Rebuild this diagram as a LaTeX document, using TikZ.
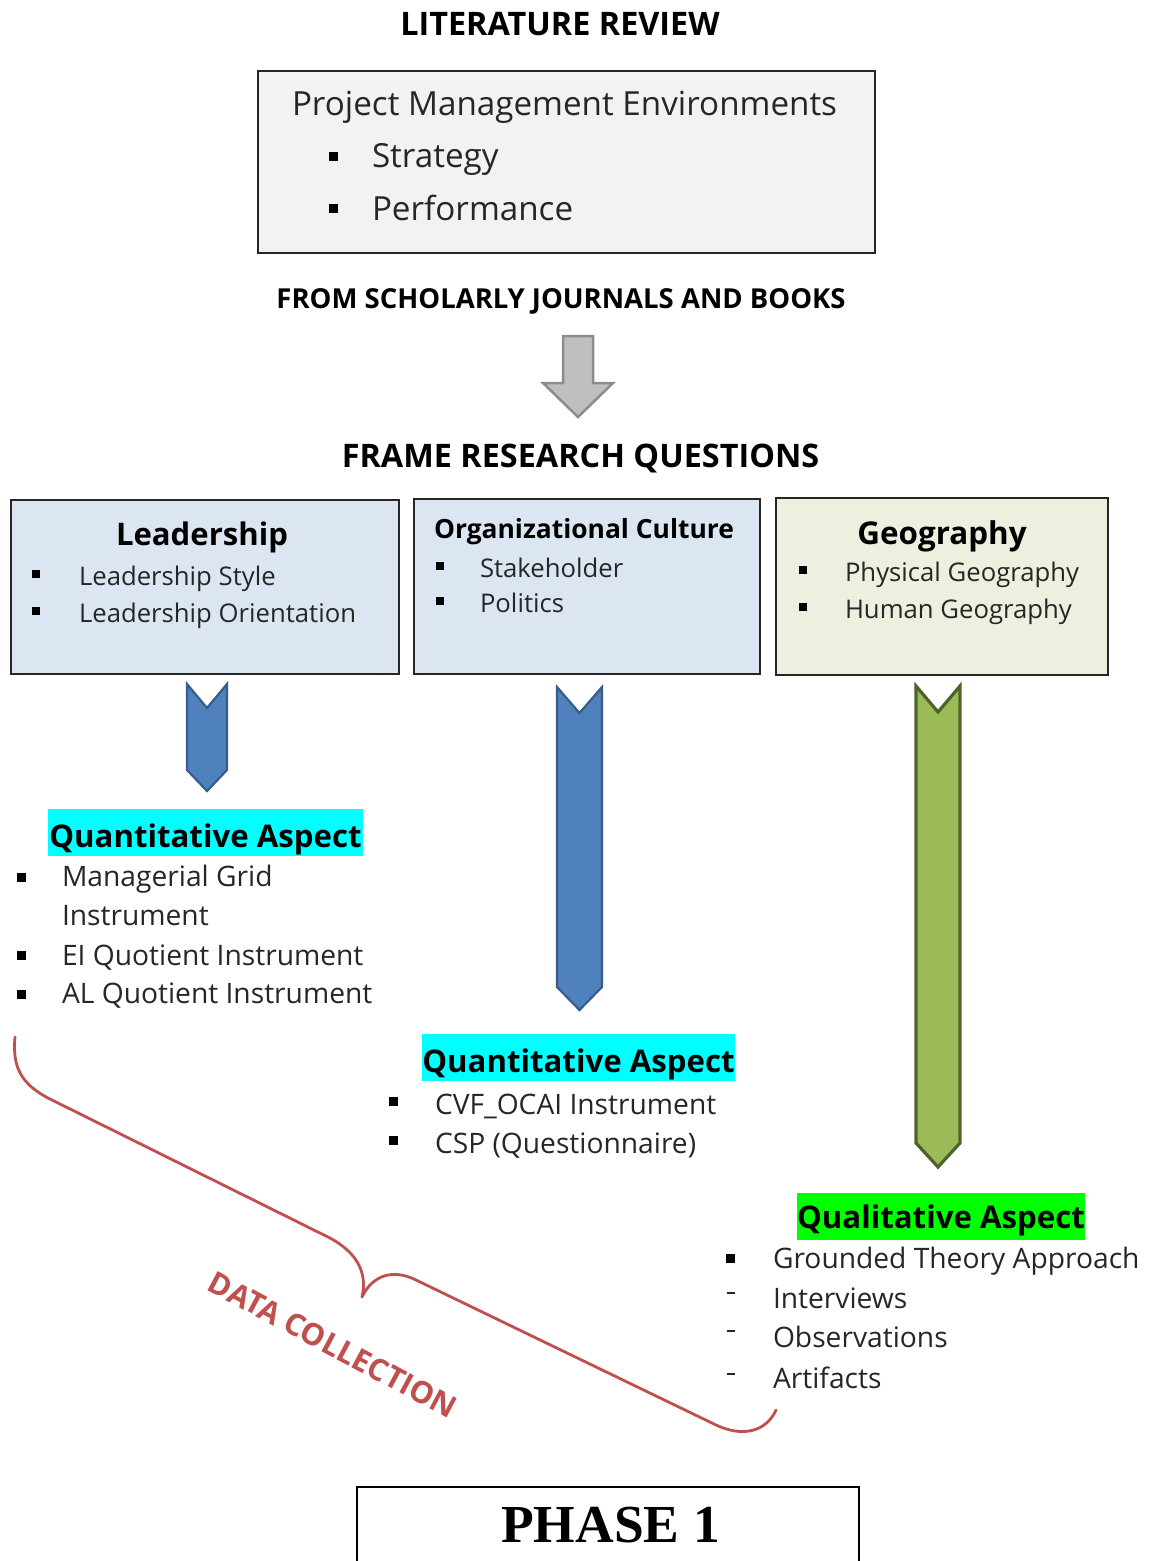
\documentclass[tikz,border=0pt]{standalone}
\usepackage{fontspec}
\setmainfont{Open Sans}
\newfontfamily\phasefont{Liberation Serif}

\definecolor{boxgray}{HTML}{F2F2F2}
\definecolor{boxblue}{HTML}{DCE6F2}
\definecolor{boxgreen}{HTML}{EBF1DE}
\definecolor{arrowblue}{HTML}{4F81BD}
\definecolor{arrowblueline}{HTML}{385D8A}
\definecolor{arrowgreen}{HTML}{9BBB59}
\definecolor{arrowgreenline}{HTML}{4F6228}
\definecolor{arrowgray}{HTML}{BFBFBF}
\definecolor{arrowgrayline}{HTML}{8C8C8C}
\definecolor{bracered}{HTML}{C0504D}
\definecolor{hlcyan}{HTML}{00FFFF}
\definecolor{hlgreen}{HTML}{00FF00}
\definecolor{bodytext}{HTML}{262626}

\newcommand\setfs[1]{\fontsize{#1}{#1}\selectfont}

\begin{document}
\begin{tikzpicture}[x=1pt,y=-1pt,
  txt/.style={anchor=base west, inner sep=0pt, outer sep=0pt, text=bodytext},
  ctxt/.style={anchor=base, inner sep=0pt, outer sep=0pt, text=black},
  heading/.style={ctxt, font=\bfseries\setfs{32.4}},
  boxtext/.style={txt, font=\setfs{25.7}},
  listtext/.style={txt, font=\setfs{28.2}},
  aspect/.style={ctxt, font=\bfseries\setfs{31.2}},
  sqbullet/.style={fill=black, inner sep=0pt, minimum size=8.5pt},
  dashbullet/.style={fill=bodytext, inner sep=0pt, minimum width=8pt, minimum height=1.8pt},
  panel/.style={draw=black!85, line width=1.5pt, anchor=north west, inner sep=0pt},
  chevron/.style={line width=2.2pt, line join=miter},
  hilite/.style={inner sep=0pt, anchor=north west}
]
\useasboundingbox (0,0) rectangle (1150,1561);

% ---- literature review block
\node[heading] (litTitle) at (560,35) {LITERATURE REVIEW};
\node[panel, fill=boxgray, minimum width=617pt, minimum height=182pt] (litBox) at (257,70) {};
\node[txt, font=\setfs{33.2}] (pme) at (292,115) {Project Management Environments};
\node[sqbullet, minimum size=9pt] (bStrat) at (333,156) {};
\node[txt, font=\setfs{33.2}] (strat) at (372,167) {Strategy};
\node[sqbullet, minimum size=9pt] (bPerf) at (333,208) {};
\node[txt, font=\setfs{33.2}] (perf) at (372,220) {Performance};

\node[ctxt, font=\bfseries\setfs{27.5}] (source) at (561,308) {FROM SCHOLARLY JOURNALS AND BOOKS};

% ---- grey block arrow
\draw[fill=arrowgray, draw=arrowgrayline, line width=2.5pt, line join=miter]
  (563,336) -- (593,336) -- (593,383) -- (613,383) -- (578,417)
  -- (543,383) -- (563,383) -- cycle;

\node[heading] (frame) at (580.5,467) {FRAME RESEARCH QUESTIONS};

% ---- three research areas
\node[panel, fill=boxblue, minimum width=388pt, minimum height=174pt] (leadBox) at (10,499) {};
\node[ctxt, font=\bfseries\setfs{31.1}] (leadTitle) at (202,545) {Leadership};
\node[sqbullet] (bL1) at (36,574) {};
\node[boxtext] (lead1) at (79,585) {Leadership Style};
\node[sqbullet] (bL2) at (36,611) {};
\node[boxtext] (lead2) at (79,622) {Leadership Orientation};

\node[panel, fill=boxblue, minimum width=346pt, minimum height=175pt] (orgBox) at (413,498) {};
\node[txt, text=black, font=\bfseries\setfs{26.4}] (orgTitle) at (434,538) {Organizational Culture};
\node[sqbullet] (bO1) at (440,566) {};
\node[boxtext] (org1) at (480,577) {Stakeholder};
\node[sqbullet] (bO2) at (440,601) {};
\node[boxtext] (org2) at (480,612) {Politics};

\node[panel, fill=boxgreen, minimum width=332pt, minimum height=177pt] (geoBox) at (775,497) {};
\node[ctxt, font=\bfseries\setfs{31.4}] (geoTitle) at (942,544) {Geography};
\node[sqbullet] (bG1) at (803,570) {};
\node[boxtext] (geo1) at (845,581) {Physical Geography};
\node[sqbullet] (bG2) at (803,607) {};
\node[boxtext] (geo2) at (845,618) {Human Geography};

% ---- chevron arrows
\draw[chevron, fill=arrowblue, draw=arrowblueline]
  (187,684) -- (207,708) -- (227,684) -- (227,770) -- (207,791) -- (187,770) -- cycle;
\draw[chevron, fill=arrowblue, draw=arrowblueline]
  (557,687) -- (579.5,713) -- (602,687) -- (602,987) -- (579.5,1010) -- (557,987) -- cycle;
\draw[chevron, fill=arrowgreen, draw=arrowgreenline, line width=3.2pt]
  (916,686) -- (938,712) -- (960,686) -- (960,1143) -- (938,1167) -- (916,1143) -- cycle;

% ---- leadership instruments
\node[hilite, fill=hlcyan, minimum width=315pt, minimum height=47pt] (hlA) at (48,809) {};
\node[aspect] (aspA) at (205.5,847) {Quantitative Aspect};
\node[sqbullet, minimum size=9pt] (bA1) at (21,877) {};
\node[listtext] (a1) at (62,886) {Managerial Grid};
\node[listtext] (a1b) at (62,925) {Instrument};
\node[sqbullet, minimum size=9pt] (bA2) at (21,955) {};
\node[listtext] (a2) at (62,965) {EI Quotient Instrument};
\node[sqbullet, minimum size=9pt] (bA3) at (21,994) {};
\node[listtext] (a3) at (62,1003) {AL Quotient Instrument};

% ---- culture instruments
\node[hilite, fill=hlcyan, minimum width=313pt, minimum height=47pt] (hlB) at (422,1034) {};
\node[aspect] (aspB) at (578.5,1072) {Quantitative Aspect};
\node[sqbullet, minimum size=9pt] (bB1) at (393,1101) {};
\node[listtext] (b1) at (435,1114) {CVF\_OCAI Instrument};
\node[sqbullet, minimum size=9pt] (bB2) at (393,1140) {};
\node[listtext] (b2) at (435,1153) {CSP (Questionnaire)};

% ---- geography methods
\node[hilite, fill=hlgreen, minimum width=288pt, minimum height=47pt] (hlC) at (797,1193) {};
\node[aspect] (aspC) at (941,1228) {Qualitative Aspect};
\node[sqbullet, minimum size=9pt] (bC1) at (730,1258) {};
\node[listtext] (c1) at (773,1268) {Grounded Theory Approach};
\node[dashbullet] (dC2) at (731,1293) {};
\node[listtext] (c2) at (773,1308) {Interviews};
\node[dashbullet] (dC3) at (731,1331) {};
\node[listtext] (c3) at (773,1347) {Observations};
\node[dashbullet] (dC4) at (731,1374) {};
\node[listtext] (c4) at (773,1388) {Artifacts};

% ---- data collection brace
\draw[bracered, line width=2.8pt, line cap=round, line join=round]
  (15,1037) .. controls (12,1068) and (22,1084) .. (48,1098)
  -- (330,1238) .. controls (356,1252) and (368,1272) .. (362,1297)
  .. controls (372,1276) and (392,1268) .. (416,1280)
  -- (714,1424) .. controls (742,1438) and (766,1432) .. (776,1410);
\node[inner sep=0pt, text=bracered, rotate=-28, font=\bfseries\setfs{30.5}] (dataColl) at (333,1345) {DATA COLLECTION};

% ---- phase label
\node[panel, draw=black, line width=2pt, minimum width=502pt, minimum height=100pt] (phaseBox) at (356,1486) {};
\node[ctxt, font=\phasefont\bfseries\setfs{53.5}] (phase) at (610.5,1542) {PHASE 1};
\end{tikzpicture}
\end{document}
